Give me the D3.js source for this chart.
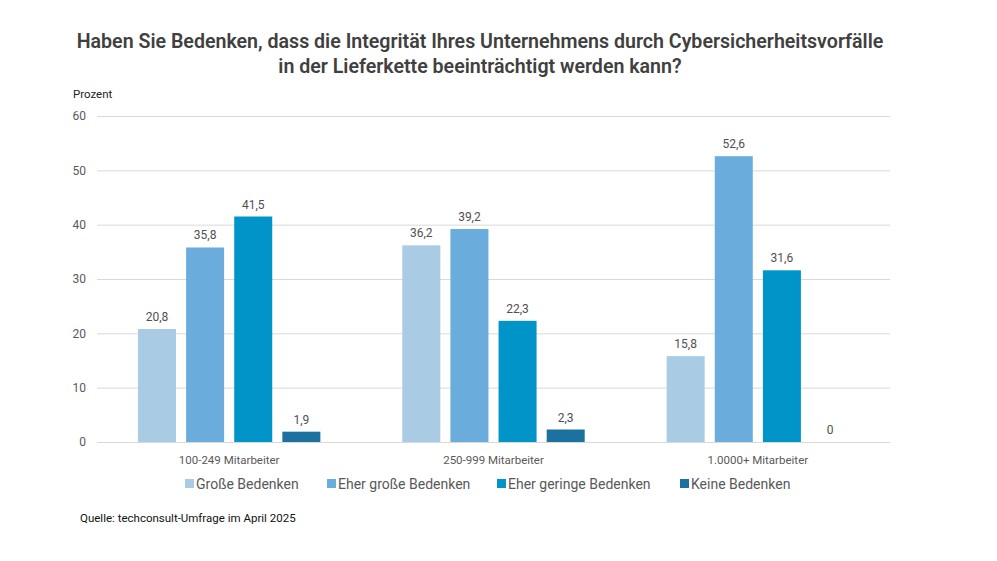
<!DOCTYPE html>
<html>
<head>
<meta charset="utf-8">
<script src="https://cdn.jsdelivr.net/npm/d3@7"></script>
<style>
  body { margin: 0; background: #fff; }
  text { font-family: "Roboto", "Liberation Sans", sans-serif; }
</style>
</head>
<body>
<div id="chart"></div>
<script>
var groups = ["100-249 Mitarbeiter", "250-999 Mitarbeiter", "1.0000+ Mitarbeiter"];
var series = ["Große Bedenken", "Eher große Bedenken", "Eher geringe Bedenken", "Keine Bedenken"];
var grosse = [20.8, 36.2, 15.8];
var eherGrosse = [35.8, 39.2, 52.6];
var eherGeringe = [41.5, 22.3, 31.6];
var keine = [1.9, 2.3, 0];
var yTicks = [0, 10, 20, 30, 40, 50, 60];
var colors = ["#a9cbe4", "#6aacdc", "#0094c8", "#1b72a0"];

var values = [grosse, eherGrosse, eherGeringe, keine];
var layout = {top: 116, bottom: 119, left: 97, right: 107};
var W = 997, H = 561;

var svg = d3.select("#chart").append("svg")
  .attr("width", W).attr("height", H);

var x0 = d3.scaleBand()
  .domain(groups)
  .range([layout.left, W - layout.right])
  .paddingInner(0.31)
  .paddingOuter(0.155);

var x1 = d3.scaleBand()
  .domain(series)
  .range([0, x0.bandwidth()])
  .paddingInner(0.21);

var y = d3.scaleLinear()
  .domain([0, 60])
  .range([H - layout.bottom, layout.top]);

// title
svg.append("text")
  .attr("x", 480).attr("y", 48)
  .attr("text-anchor", "middle")
  .attr("font-size", 19.6).attr("font-weight", 600).attr("fill", "#404040")
  .text("Haben Sie Bedenken, dass die Integrität Ihres Unternehmens durch Cybersicherheitsvorfälle");
svg.append("text")
  .attr("x", 480).attr("y", 73)
  .attr("text-anchor", "middle")
  .attr("font-size", 19.6).attr("font-weight", 600).attr("fill", "#404040")
  .text("in der Lieferkette beeinträchtigt werden kann?");

svg.append("text")
  .attr("x", 73).attr("y", 98)
  .attr("font-size", 11.5).attr("fill", "#222")
  .text("Prozent");

// grid + y axis
var yAxis = svg.append("g")
  .attr("transform", "translate(" + layout.left + ",0)")
  .call(d3.axisLeft(y).tickValues(yTicks).tickSize(-(W - layout.left - layout.right)).tickPadding(11));
yAxis.select(".domain").remove();
yAxis.selectAll(".tick line").attr("stroke", "#d9d9d9");
yAxis.selectAll(".tick text").attr("font-size", 12).attr("fill", "#595959");

// x axis
var xAxis = svg.append("g")
  .attr("transform", "translate(0," + y(0) + ")")
  .call(d3.axisBottom(x0).tickSize(0).tickPadding(14));
xAxis.select(".domain").attr("stroke", "#d9d9d9");
xAxis.selectAll(".tick text").attr("font-size", 11.5).attr("fill", "#595959");

// bars
var rows = [];
groups.forEach(function(g, gi) {
  series.forEach(function(s, si) {
    rows.push({group: g, series: s, si: si, value: values[si][gi]});
  });
});

var cells = svg.selectAll(".bar")
  .data(rows)
  .enter().append("g")
  .attr("class", "bar")
  .attr("transform", function(d) { return "translate(" + x0(d.group) + ",0)"; });

cells.append("rect")
  .attr("x", function(d) { return x1(d.series); })
  .attr("y", function(d) { return y(d.value); })
  .attr("width", x1.bandwidth())
  .attr("height", function(d) { return y(0) - y(d.value); })
  .attr("fill", function(d) { return colors[d.si]; });

cells.append("text")
  .attr("x", function(d) { return x1(d.series) + x1.bandwidth() / 2; })
  .attr("y", function(d) { return y(d.value) - 8; })
  .attr("text-anchor", "middle")
  .attr("font-size", 12).attr("fill", "#505050")
  .text(function(d) { return String(d.value).replace(".", ","); });

// legend
var legendX = [185, 327, 497, 680];
var legend = svg.selectAll(".legend")
  .data(series)
  .enter().append("g")
  .attr("class", "legend")
  .attr("transform", function(d, i) { return "translate(" + legendX[i] + ",479)"; });
legend.append("rect")
  .attr("width", 9).attr("height", 9)
  .attr("fill", function(d, i) { return colors[i]; });
legend.append("text")
  .attr("x", 11).attr("y", 10)
  .attr("font-size", 14).attr("fill", "#595959")
  .text(function(d) { return d; });

svg.append("text")
  .attr("x", 80).attr("y", 522)
  .attr("font-size", 11.5).attr("fill", "#111")
  .text("Quelle: techconsult-Umfrage im April 2025");
</script>
</body>
</html>
